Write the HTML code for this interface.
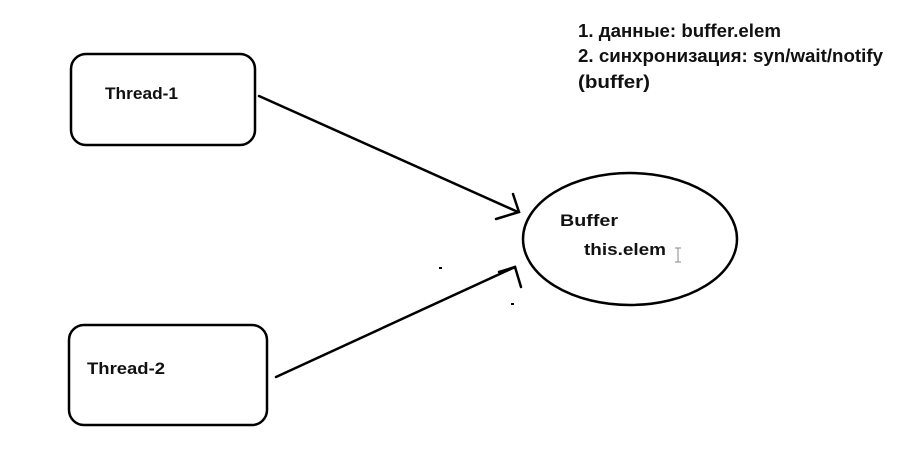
<!DOCTYPE html>
<html><head><meta charset="utf-8"><style>html,body{margin:0;padding:0;background:#fff;}svg{display:block}</style></head>
<body>
<svg width="910" height="452" viewBox="0 0 910 452" xmlns="http://www.w3.org/2000/svg">
<g fill="none" stroke="#000" stroke-width="2.5" stroke-linecap="round">
<rect x="71" y="54" width="184" height="91" rx="15"/>
<rect x="69" y="325" width="198" height="100" rx="15"/>
<ellipse cx="630" cy="239" rx="107" ry="66"/>
<line x1="259" y1="96" x2="518" y2="212"/>
<polyline points="513,194 519,212 496,219"/>
<line x1="276" y1="377" x2="515" y2="267"/>
<polyline points="499,272 515,267 521,287"/>
</g>
<rect x="439" y="267" width="3" height="2" fill="#000"/>
<rect x="511" y="303" width="3" height="2" fill="#000"/>
<g font-family="'Liberation Sans', sans-serif" font-weight="bold" font-size="17" fill="#111">
<text x="105" y="99" textLength="73" lengthAdjust="spacingAndGlyphs">Thread-1</text>
<text x="87" y="374" textLength="78" lengthAdjust="spacingAndGlyphs">Thread-2</text>
<text x="560" y="226" textLength="58" lengthAdjust="spacingAndGlyphs">Buffer</text>
<text x="584" y="255" textLength="82" lengthAdjust="spacingAndGlyphs">this.elem</text>
<text x="578" y="37" font-size="18" textLength="203" lengthAdjust="spacingAndGlyphs">1. данные: buffer.elem</text>
<text x="578" y="62" font-size="18" textLength="305" lengthAdjust="spacingAndGlyphs">2. синхронизация: syn/wait/notify</text>
<text x="578" y="88" font-size="18" textLength="72" lengthAdjust="spacingAndGlyphs">(buffer)</text>
</g>
<g stroke="#888" stroke-width="1">
<line x1="678" y1="248" x2="678" y2="262"/><line x1="675" y1="248" x2="681" y2="248"/><line x1="675" y1="262" x2="681" y2="262"/>
</g>
</svg>
</body></html>
